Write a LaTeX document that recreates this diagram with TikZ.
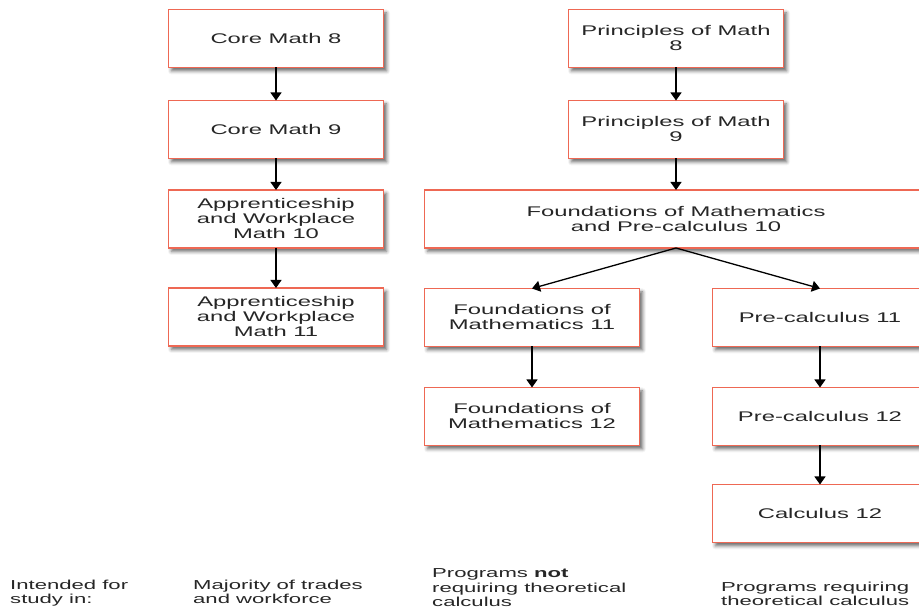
\documentclass[tikz,border=0pt]{standalone}
\usepackage{fontspec}
\setmainfont{Liberation Sans}
\newfontfamily\chartfont[FakeStretch=1.7]{Liberation Sans}
\usetikzlibrary{arrows.meta,positioning,shadows.blur}
\definecolor{boxred}{RGB}{238,104,84}
\tikzset{
    %Define standard arrow tip
    >={Triangle[length=8pt,width=11pt]},
    %Define style for boxes
    course/.style={
           rectangle,
           draw=boxred, line width=1.2pt,
           fill=white,
           outer sep=0pt,
           minimum width=215pt,
           minimum height=58pt,
           font=\chartfont\fontsize{14}{15}\selectfont,
           text=black!85,
           align=center,
           blur shadow={shadow xshift=3pt,shadow yshift=-3.5pt,shadow blur radius=3.5pt,shadow opacity=60},
           },
    widecourse/.style={
           course,
           minimum width=503pt,
           },
    % Define style for the notes at the bottom
    note/.style={
           anchor=base west,
           inner sep=0pt,
           align=left,
           font=\chartfont\fontsize{13}{14.5}\selectfont,
           text=black!85,
           },
    % Define arrow style
    pil/.style={
           ->,
           line width=1.3pt,
           },
}
\begin{document}
\begin{tikzpicture}[x=1pt,y=1pt,node distance=33pt]
\useasboundingbox (0,0) rectangle (919,610);
\node[course] (1) at (276,571.5) {Core Math 8};
\node[course, below=of 1] (2) {Core Math 9};
\node[course, below=31.5pt of 2] (3) {Apprenticeship\\and Workplace\\Math 10};
\node[course, below=40pt of 3] (4) {Apprenticeship\\and Workplace\\Math 11};
\node[course] (5) at (676,571.5) {Principles of Math\\8};
\node[course, below=of 5] (6) {Principles of Math\\9};
\node[widecourse, below=31.5pt of 6] (7) {Foundations of Mathematics\\and Pre-calculus 10};
\node[course, below=40.5pt of 7.south west, anchor=north west] (8) {Foundations of\\Mathematics 11};
\node[course, below=40.5pt of 7.south east, anchor=north east] (9) {Pre-calculus 11};
\node[course, below=41pt of 8] (10) {Foundations of\\Mathematics 12};
\node[course, below=41pt of 9] (11) {Pre-calculus 12};
\node[course, below=39pt of 11] (12) {Calculus 12};
% notes: base anchor sits on the last line
\node[note] (n1) at (10,6) {Intended for\\study in:};
\node[note] (n2) at (193,6) {Majority of trades\\and workforce};
\node[note] (n3) at (432,3) {Programs \textbf{not}\\requiring theoretical\\calculus};
\node[note] (n4) at (721,4) {Programs requiring\\theoretical calculus};
\path[pil]
	(1) edge (2)
	(2) edge (3)
	(3) edge (4)
	(5) edge (6)
	(6) edge (7)
	(7.south) edge (8.north) edge (9.north)
	(8) edge (10)
	(9) edge (11)
	(11) edge (12);
\end{tikzpicture}
\end{document}
